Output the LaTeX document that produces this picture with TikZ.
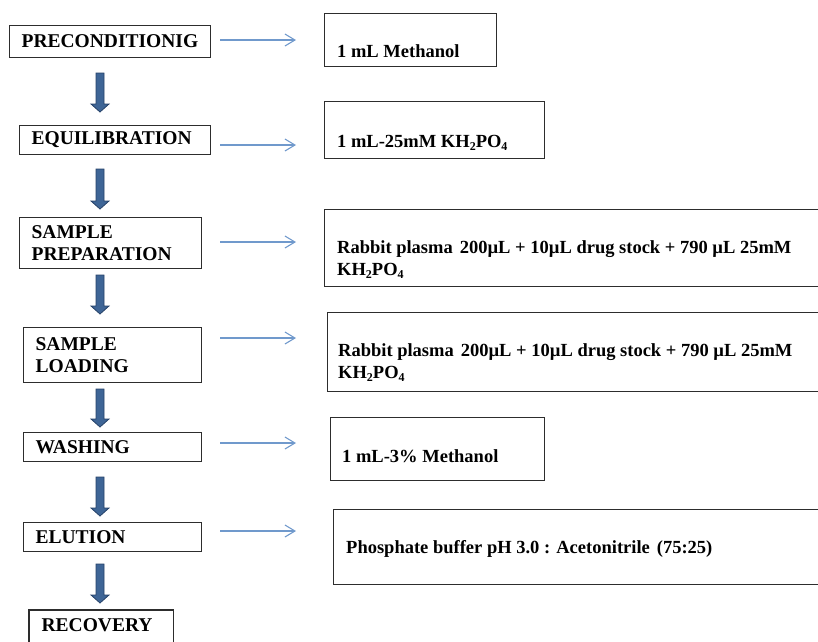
\documentclass[tikz,border=0pt]{standalone}
\usepackage{fontspec}
\setmainfont{Liberation Serif}
\usetikzlibrary{arrows.meta,calc}
\definecolor{bfill}{RGB}{62,101,150}
\definecolor{bdraw}{RGB}{38,66,104}
\definecolor{tblue}{RGB}{112,153,204}
\definecolor{bord}{RGB}{45,45,45}
\newcommand\subs[1]{\raisebox{-0.4ex}{\fontsize{12}{12}\selectfont #1}}
\tikzset{
  lbox/.style={draw=bord, line width=1.2pt, anchor=north west, inner xsep=12pt, inner ysep=0pt,
    align=left, font=\bfseries\fontsize{19.5}{22}\selectfont},
  rbox/.style={draw=bord, line width=1.2pt, anchor=north west, inner sep=0pt},
  rtext/.style={anchor=base west, inner sep=0pt, align=left, font=\bfseries\fontsize{18.5}{22}\selectfont},
  thinarr/.style={draw=tblue, line width=1.1pt, -{Straight Barb[length=10pt,width=12pt]}},
  blockarr/.style={fill=bfill, draw=bdraw, line width=0.8pt, line join=miter},
}
\newcommand\blockarrow[2]{%
  \path[blockarr] ($(#1)+(-4,0)$) -- ($(#2)+(-4,-8)$) -- ($(#2)+(-9,-8)$) -- (#2)
    -- ($(#2)+(9,-8)$) -- ($(#2)+(4,-8)$) -- ($(#1)+(4,0)$) -- cycle;}
\begin{document}
\begin{tikzpicture}[x=1pt, y=-1pt]
\useasboundingbox (0,0) rectangle (818,641);
\clip (0,0) rectangle (818,641);

% left process boxes
\node[lbox, minimum width=201pt, minimum height=32pt, text width=177pt] (pre) at (9,25) {PRECONDITIONIG};
\node[lbox, minimum width=191pt, minimum height=29pt, text width=167pt] (equ) at (19,125) {EQUILIBRATION};
\node[lbox, minimum width=182pt, minimum height=51pt, text width=158pt] (sprep) at (19,217) {SAMPLE\\PREPARATION};
\node[lbox, minimum width=178pt, minimum height=55pt, text width=154pt] (sload) at (23,327) {SAMPLE\\LOADING};
\node[lbox, minimum width=178pt, minimum height=29pt, text width=154pt] (wash) at (23,432) {WASHING};
\node[lbox, minimum width=178pt, minimum height=29pt, text width=154pt] (elut) at (23,522) {ELUTION};
\node[lbox, draw=none, minimum width=143pt, minimum height=30pt, text width=119pt] (recov) at (29,610) {RECOVERY};
\draw[draw=bord, line width=1.2pt] ($(recov.south west)+(0,6)$) -- (recov.north west) -- (recov.north east) -- ($(recov.south east)+(0,6)$);

% block arrows
\coordinate (a1s) at (100,73);  \coordinate (a1e) at (100,112);
\coordinate (a2s) at (100,169); \coordinate (a2e) at (100,209);
\coordinate (a3s) at (100,275); \coordinate (a3e) at (100,314);
\coordinate (a4s) at (100,389); \coordinate (a4e) at (100,427);
\coordinate (a5s) at (100,477); \coordinate (a5e) at (100,516);
\coordinate (a6s) at (100,564); \coordinate (a6e) at (100,603);
\blockarrow{a1s}{a1e}
\blockarrow{a2s}{a2e}
\blockarrow{a3s}{a3e}
\blockarrow{a4s}{a4e}
\blockarrow{a5s}{a5e}
\blockarrow{a6s}{a6e}

% right reagent boxes
\node[rbox, minimum width=172pt, minimum height=53pt] (r1) at (324,13) {};
\node[rbox, minimum width=220pt, minimum height=57pt] (r2) at (324,101) {};
\node[rbox, minimum width=506pt, minimum height=77pt] (r3) at (324,209) {};
\node[rbox, minimum width=503pt, minimum height=79pt] (r4) at (327,312) {};
\node[rbox, minimum width=214pt, minimum height=63pt] (r5) at (330,417) {};
\node[rbox, minimum width=497pt, minimum height=75pt] (r6) at (333,509) {};

\node[rtext] (r1t) at (337,57) {1 mL Methanol};
\node[rtext] (r2t) at (337,147) {1 mL-25mM KH\subs{2}PO\subs{4}};
\node[rtext] (r3t) at (337,275) {Rabbit plasma\hspace{7pt}200µL + 10µL drug stock + 790 µL 25mM\\KH\subs{2}PO\subs{4}};
\node[rtext] (r4t) at (338,378) {Rabbit plasma\hspace{7pt}200µL + 10µL drug stock + 790 µL 25mM\\KH\subs{2}PO\subs{4}};
\node[rtext] (r5t) at (342,462) {1 mL-3\% Methanol};
\node[rtext] (r6t) at (346,553) {Phosphate buffer pH 3.0 : Acetonitrile\hspace{7pt}(75:25)};

% thin arrows
\coordinate (t1s) at (220,40);  \coordinate (t1e) at (296,40);
\coordinate (t2s) at (220,145); \coordinate (t2e) at (296,145);
\coordinate (t3s) at (220,242); \coordinate (t3e) at (296,242);
\coordinate (t4s) at (220,338); \coordinate (t4e) at (296,338);
\coordinate (t5s) at (220,443); \coordinate (t5e) at (296,443);
\coordinate (t6s) at (220,531); \coordinate (t6e) at (296,531);
\draw[thinarr] (t1s) -- (t1e);
\draw[thinarr] (t2s) -- (t2e);
\draw[thinarr] (t3s) -- (t3e);
\draw[thinarr] (t4s) -- (t4e);
\draw[thinarr] (t5s) -- (t5e);
\draw[thinarr] (t6s) -- (t6e);
\end{tikzpicture}
\end{document}
